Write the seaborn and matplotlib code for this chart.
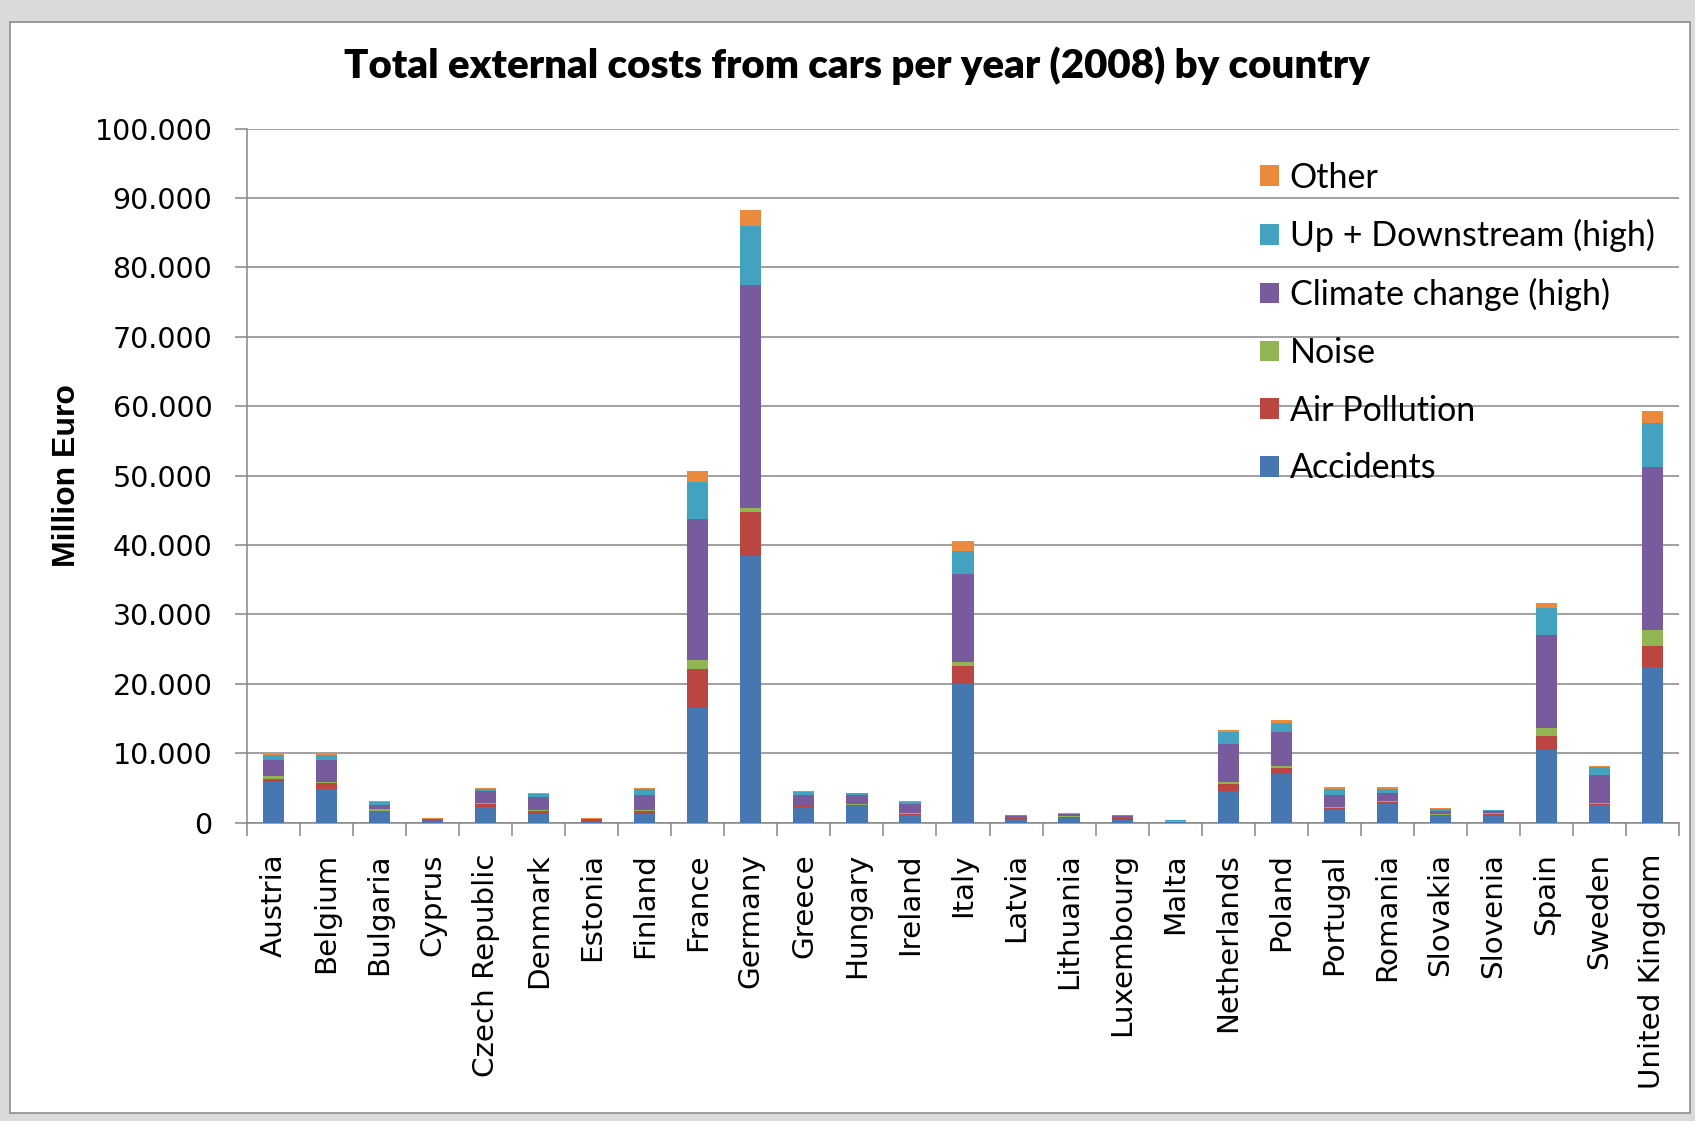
import matplotlib
matplotlib.use("Agg")
import matplotlib.pyplot as plt
import matplotlib.ticker as mticker
from matplotlib.patches import Patch, Rectangle
import seaborn as sns
import pandas as pd
import numpy as np

countries = ["Austria", "Belgium", "Bulgaria", "Cyprus", "Czech Republic", "Denmark",
             "Estonia", "Finland", "France", "Germany", "Greece", "Hungary", "Ireland",
             "Italy", "Latvia", "Lithuania", "Luxembourg", "Malta", "Netherlands",
             "Poland", "Portugal", "Romania", "Slovakia", "Slovenia", "Spain", "Sweden",
             "United Kingdom"]

accidents = [5800, 4800, 1600, 200, 2300, 1250, 250, 1250, 16500, 38400, 2250, 2350, 1050,
             20000, 500, 700, 400, 100, 4500, 7000, 1900, 2700, 960, 900, 10500, 2500, 22400]
air_pollution = [500, 900, 100, 50, 400, 350, 80, 450, 5600, 6300, 250, 150, 250,
                 2500, 150, 150, 200, 50, 1100, 850, 200, 300, 140, 400, 2000, 200, 3100]
noise = [400, 200, 200, 20, 100, 200, 20, 100, 1300, 700, 100, 150, 100,
         600, 30, 30, 20, 10, 200, 250, 100, 100, 100, 50, 1100, 100, 2300]
climate = [2300, 3100, 700, 250, 1800, 1850, 200, 2200, 20300, 32000, 1350, 1300, 1350,
           12700, 300, 350, 400, 140, 5550, 4900, 1800, 1150, 500, 300, 13400, 4000, 23400]
updown = [700, 800, 300, 50, 300, 450, 40, 900, 5400, 8500, 500, 250, 200,
          3400, 50, 80, 50, 20, 1750, 1300, 850, 600, 250, 100, 3900, 1200, 6400]
other = [200, 200, 200, 30, 100, 200, 20, 100, 1500, 2400, 100, 100, 100,
         1400, 30, 40, 30, 20, 200, 500, 250, 250, 100, 50, 700, 100, 1700]

series_names = ["Accidents", "Air Pollution", "Noise", "Climate change (high)",
                "Up + Downstream (high)", "Other"]
series_values = [accidents, air_pollution, noise, climate, updown, other]
colors = ["#4777b0", "#bb4541", "#92b553", "#775b9c", "#42a2bf", "#ea8a3d"]

yticks = [0, 10000, 20000, 30000, 40000, 50000, 60000, 70000, 80000, 90000, 100000]

sns.set_theme(style="white")
plt.rcParams["font.family"] = ["DejaVu Sans"]
plt.rcParams["text.color"] = "black"

W, H = 1695, 1121
fig = plt.figure(figsize=(W / 100, H / 100), dpi=100, facecolor="#dadada")
# white chart box with grey border
fig.patches.append(Rectangle((10 / W, 8 / H), (1690 - 10) / W, (1099 - 8) / H,
                             transform=fig.transFigure, facecolor="white",
                             edgecolor="#8c8c8c", linewidth=1.2, zorder=-5))

ax = fig.add_axes([247 / W, (H - 822.6) / H, (1679 - 247) / W, (822.6 - 128.6) / H])
ax.set_zorder(2)
ax.set_facecolor("none")

df = pd.DataFrame({"country": countries})
bottom = np.zeros(len(countries))
for name, vals, col in zip(series_names, series_values, colors):
    df[name] = vals
    sns.barplot(data=df, x="country", y=name, color=col, width=0.4, bottom=bottom,
                errorbar=None, ax=ax, saturation=1, linewidth=0, zorder=3)
    bottom = bottom + np.array(vals, dtype=float)

ax.set_xlim(-0.5, len(countries) - 0.5)
ax.set_ylim(0, 100000)
ax.set_yticks(yticks)
ax.yaxis.set_major_formatter(mticker.FuncFormatter(lambda v, p: f"{int(v):,}".replace(",", ".")))
ax.grid(axis="y", color="#868686", linewidth=1.1, zorder=0)
ax.set_axisbelow(True)

for s in ["top", "right"]:
    ax.spines[s].set_visible(False)
for s in ["left", "bottom"]:
    ax.spines[s].set_color("#868686")
    ax.spines[s].set_linewidth(1.1)

ax.set_xlabel("")
ax.set_ylabel("")
ax.set_xticks(range(len(countries)))
ax.set_xticklabels(countries, rotation=90, fontsize=21.2, color="black")
ax.tick_params(axis="x", which="major", length=0, pad=22)
ax.set_xticks(np.arange(-0.5, len(countries), 1.0), minor=True)
ax.tick_params(axis="x", which="minor", length=9, width=1.1, color="#868686", direction="out", bottom=True)
ax.tick_params(axis="y", which="major", length=9, width=1.1, color="#868686", direction="out",
               left=True, labelsize=20.5, pad=16, labelcolor="black")

handles = [Patch(facecolor=c, edgecolor="none") for c in colors]
leg = ax.legend(handles[::-1], series_names[::-1], loc="upper left",
                bbox_to_anchor=(0.698, 0.972), frameon=False,
                prop={"family": "Lato", "size": 24.5}, handlelength=0.55, handleheight=0.55,
                handletextpad=0.32, labelspacing=0.755, borderaxespad=0)
for t in leg.get_texts():
    t.set_color("black")

fig.text(857 / W, 1 - 66 / H, "Total external costs from cars per year (2008) by country",
         ha="center", va="center", fontsize=29, fontweight="heavy", family="Lato", color="black")
fig.text(67 / W, 1 - 476 / H, "Million Euro", rotation=90, ha="center", va="center",
         fontsize=23, fontweight="bold", family="Liberation Sans", color="black")

fig.savefig("out.png", dpi=100, facecolor=fig.get_facecolor())
